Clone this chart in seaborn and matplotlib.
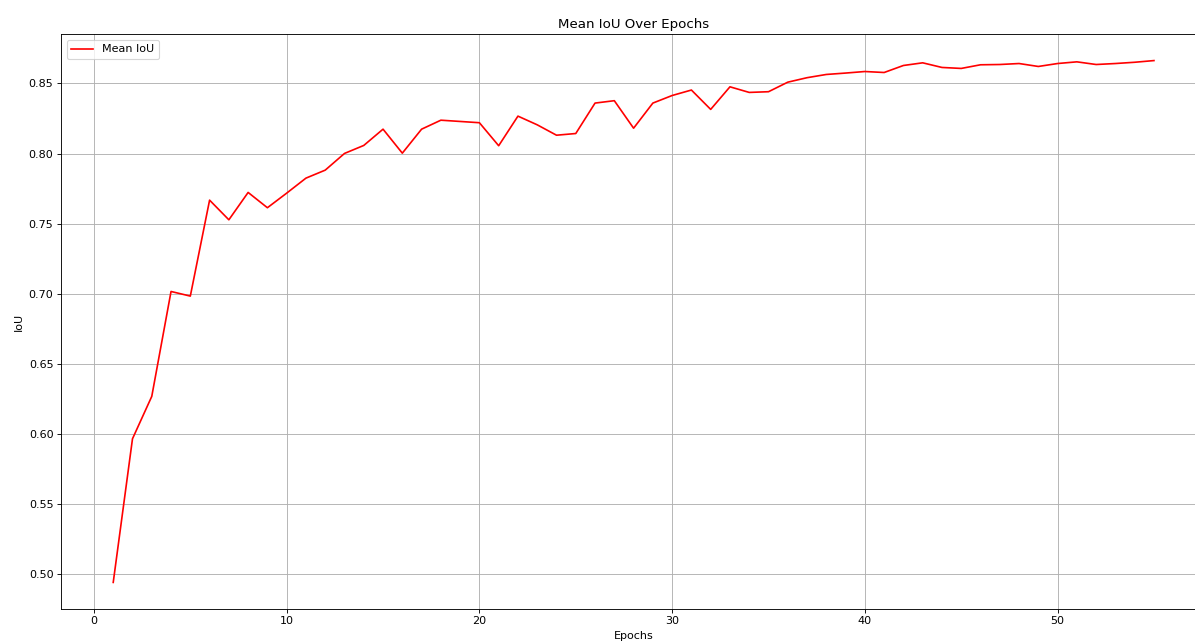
import matplotlib
matplotlib.use("Agg")
import matplotlib.pyplot as plt
import seaborn as sns
import pandas as pd

# Per-epoch mean IoU on the validation set
epochs = list(range(1, 56))
mean_iou = [
    0.4943, 0.5967, 0.6269, 0.7017, 0.6984, 0.7668, 0.7528, 0.7723, 0.7614, 0.7718,
    0.7825, 0.7882, 0.8001, 0.8058, 0.8174, 0.8003, 0.8174, 0.8238, 0.8229, 0.8220,
    0.8056, 0.8267, 0.8205, 0.8131, 0.8143, 0.8360, 0.8377, 0.8181, 0.8360, 0.8414,
    0.8453, 0.8315, 0.8476, 0.8436, 0.8441, 0.8509, 0.8541, 0.8564, 0.8574, 0.8585,
    0.8578, 0.8628, 0.8647, 0.8614, 0.8607, 0.8633, 0.8635, 0.8642, 0.8621, 0.8642,
    0.8654, 0.8635, 0.8642, 0.8651, 0.8663,
]

df = pd.DataFrame({"Epoch": epochs, "Mean IoU": mean_iou})

DPI = 80
fig = plt.figure(figsize=(1195 / DPI, 641 / DPI), dpi=DPI)
ax = fig.add_axes([0.0512, 0.0507, 0.958, 0.8955])

sns.lineplot(data=df, x="Epoch", y="Mean IoU", color="red", linewidth=1.5,
             label="Mean IoU", ax=ax)

ax.set_title("Mean IoU Over Epochs", fontsize=12)
ax.set_xlabel("Epochs", fontsize=10)
ax.set_ylabel("IoU", fontsize=10)
ax.grid(True)
ax.legend(loc="upper left", fontsize=10)

fig.savefig("out.png", dpi=DPI)
